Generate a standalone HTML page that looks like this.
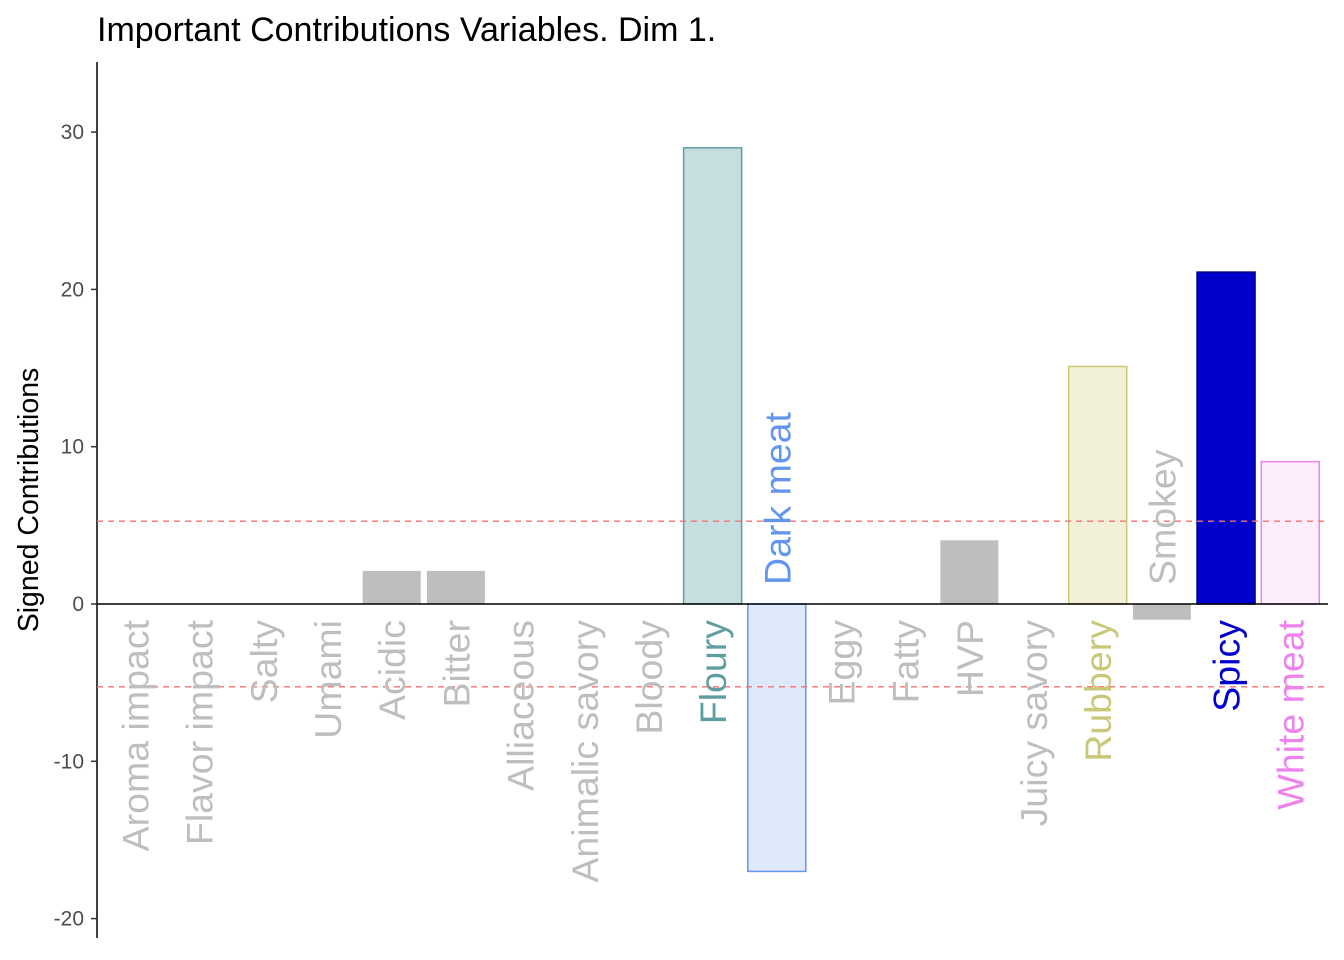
<!DOCTYPE html>
<html><head><meta charset="utf-8"><style>
body{margin:0;background:#fff;}
svg{display:block;font-family:"Liberation Sans",Arial,sans-serif;}
</style></head><body>
<svg id="chart" width="1344" height="960">
<text x="97" y="41" font-size="34" fill="#000">Important Contributions Variables. Dim 1.</text>
<text transform="translate(38,500) rotate(-90)" text-anchor="middle" font-size="28.5" fill="#000">Signed Contributions</text>
<g id="g"></g>
</svg>
<script>
const categories=["Aroma impact","Flavor impact","Salty","Umami","Acidic","Bitter","Alliaceous","Animalic savory","Bloody","Floury","Dark meat","Eggy","Fatty","HVP","Juicy savory","Rubbery","Smokey","Spicy","White meat"];
const values=[0,0,0,0,2.1,2.1,0,0,0,29,-17,0,0,4.05,0,15.1,-1,21.1,9.05];
const fills=["#BEBEBE","#BEBEBE","#BEBEBE","#BEBEBE","#BEBEBE","#BEBEBE","#BEBEBE","#BEBEBE","#BEBEBE","#C5DFE0","#DEE9FB","#BEBEBE","#BEBEBE","#BEBEBE","#BEBEBE","#F3F0DA","#BEBEBE","#0000CD","#FCEEFC"];
const strokes=["none","none","none","none","none","none","none","none","none","#5F9EA0","#6495ED","none","none","none","none","#CDC673","none","#00008B","#EE82EE"];
const labelColors=["#BEBEBE","#BEBEBE","#BEBEBE","#BEBEBE","#BEBEBE","#BEBEBE","#BEBEBE","#BEBEBE","#BEBEBE","#5F9EA0","#6495ED","#BEBEBE","#BEBEBE","#BEBEBE","#BEBEBE","#C8C878","#BEBEBE","#0000CD","#EE82EE"];
const yTicks=[-20,-10,0,10,20,30];
const threshold=100/19;
const NS="http://www.w3.org/2000/svg";
const g=document.getElementById('g');
const y=v=>604-v*15.73;
const step=64.18;
const x=i=>135+i*step;
const bw=58;
function mk(t,a){const e=document.createElementNS(NS,t);for(const k in a)e.setAttribute(k,a[k]);g.appendChild(e);return e;}
let ax=mk('line',{x1:97,x2:97,y1:62,y2:938,stroke:'#000','stroke-width':1.5});


yTicks.forEach(t=>{
 const l=mk('line',{x1:91,x2:97,y1:y(t),y2:y(t),stroke:'#333','stroke-width':1.5});
 
 
 const tx=mk('text',{x:84,y:y(t)+7,'text-anchor':'end','font-size':21,fill:'#4D4D4D'});
 tx.textContent=t;
 
 
});
values.forEach((v,i)=>{
 const top=Math.min(y(v),y(0)),h=Math.abs(y(v)-y(0));
 if(h>0){
  const r=mk('rect',{x:x(i)-bw/2,y:top,width:bw,height:h,fill:fills[i],stroke:strokes[i],'stroke-width':1.5});
  
  
 }
});
[threshold,-threshold].forEach(t=>{
 const l=mk('line',{x1:97,x2:1328,y1:y(t),y2:y(t),stroke:'#F87171','stroke-width':1.3,'stroke-dasharray':'6,5'});
 
 
});
let z=mk('line',{x1:97,x2:1328,y1:y(0),y2:y(0),stroke:'#000','stroke-width':1.5});


values.forEach((v,i)=>{
 const neg=v<0;
 const ly=neg?y(0)-19:y(0)+16;
 const t=mk('text',{transform:`translate(${x(i)+13.5},${ly}) rotate(-90)`,'text-anchor':neg?'start':'end','font-size':37.5,fill:labelColors[i]});
 t.textContent=categories[i];
 
 
});
</script>
</body></html>
